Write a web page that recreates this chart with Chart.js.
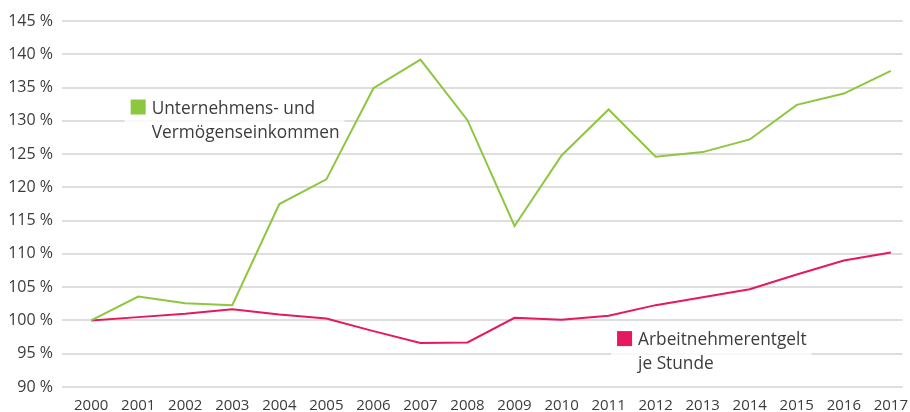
<!DOCTYPE html>
<html>
<head>
<meta charset="utf-8">
<script src="https://cdn.jsdelivr.net/npm/chart.js@4"></script>
<style>
  html, body { margin: 0; padding: 0; background: #fff; }
  #wrap { width: 910px; height: 412px; position: relative; }
</style>
</head>
<body>
<div id="wrap"><canvas id="chart"></canvas></div>
<script>
const years = ['2000', '2001', '2002', '2003', '2004', '2005', '2006', '2007', '2008',
  '2009', '2010', '2011', '2012', '2013', '2014', '2015', '2016', '2017'];
const unternehmen = [100, 103.6, 102.6, 102.3, 117.5, 121.2, 134.9, 139.2, 130.1,
  114.2, 124.8, 131.7, 124.6, 125.3, 127.2, 132.4, 134.1, 137.5];
const arbeitnehmer = [100, 100.5, 101.0, 101.7, 100.9, 100.3, 98.4, 96.6, 96.7,
  100.4, 100.1, 100.7, 102.3, 103.5, 104.7, 106.9, 109.0, 110.2];
const yTicks = [90, 95, 100, 105, 110, 115, 120, 125, 130, 135, 140, 145];

const green = '#8dc63f';
const pink = '#e5195b';
const textColor = '#3c3c3c';
const fontFamily = "'Open Sans', 'DejaVu Sans', sans-serif";

function toPoints(values) {
  return values.map((v, i) => ({ x: i, y: v }));
}

// series labels placed in the plot, anchored on data coordinates
const seriesLabels = [
  { lines: ['Unternehmens- und', 'Vermögenseinkommen'], color: green, x: 0.84, y: 133.2 },
  { lines: ['Arbeitnehmerentgelt', 'je Stunde'], color: pink, x: 11.18, y: 98.4 }
];

const labelPlugin = {
  id: 'seriesLabels',
  beforeDatasetsDraw(chart) {
    const c = chart.ctx;
    const xs = chart.scales.x;
    const ys = chart.scales.y;
    c.save();
    c.font = '17.3px ' + fontFamily;
    seriesLabels.forEach(lab => {
      const px = xs.getPixelForValue(lab.x);
      const py = ys.getPixelForValue(lab.y);
      const w = Math.max(...lab.lines.map(l => c.measureText(l).width));
      c.fillStyle = 'rgba(255,255,255,0.8)';
      c.fillRect(px - 6, py - 6, w + 32, 52);
      c.fillStyle = lab.color;
      c.fillRect(px, py, 15, 15);
      c.fillStyle = textColor;
      c.textBaseline = 'alphabetic';
      lab.lines.forEach((l, i) => c.fillText(l, px + 21, py + 14 + i * 24));
    });
    c.restore();
  }
};

new Chart(document.getElementById('chart'), {
  type: 'line',
  data: {
    datasets: [{
      label: 'Unternehmens- und Vermögenseinkommen',
      data: toPoints(unternehmen),
      borderColor: green,
      borderWidth: 2,
      pointRadius: 0,
      tension: 0
    }, {
      label: 'Arbeitnehmerentgelt je Stunde',
      data: toPoints(arbeitnehmer),
      borderColor: pink,
      borderWidth: 2,
      pointRadius: 0,
      tension: 0
    }]
  },
  options: {
    responsive: true,
    maintainAspectRatio: false,
    animation: false,
    layout: { padding: { top: 21, right: 0, left: 0, bottom: 0 } },
    plugins: {
      legend: { display: false },
      tooltip: { enabled: false }
    },
    scales: {
      x: {
        type: 'linear',
        min: -0.62,
        max: 17.25,
        afterBuildTicks: scale => { scale.ticks = years.map((y, i) => ({ value: i })); },
        afterFit: scale => { scale.height = 25; },
        grid: { display: false },
        border: { display: false },
        ticks: {
          autoSkip: false,
          maxRotation: 0,
          padding: 2,
          color: textColor,
          font: { family: fontFamily, size: 15 },
          callback: v => years[v]
        }
      },
      y: {
        min: 90,
        max: 145,
        afterBuildTicks: scale => { scale.ticks = yTicks.map(v => ({ value: v })); },
        afterFit: scale => { scale.width = 62; },
        grid: { color: '#dedede', lineWidth: 2, drawTicks: false },
        border: { display: false },
        ticks: {
          padding: 9,
          color: textColor,
          font: { family: fontFamily, size: 16 },
          callback: v => v + ' %'
        }
      }
    }
  },
  plugins: [labelPlugin]
});
</script>
</body>
</html>
